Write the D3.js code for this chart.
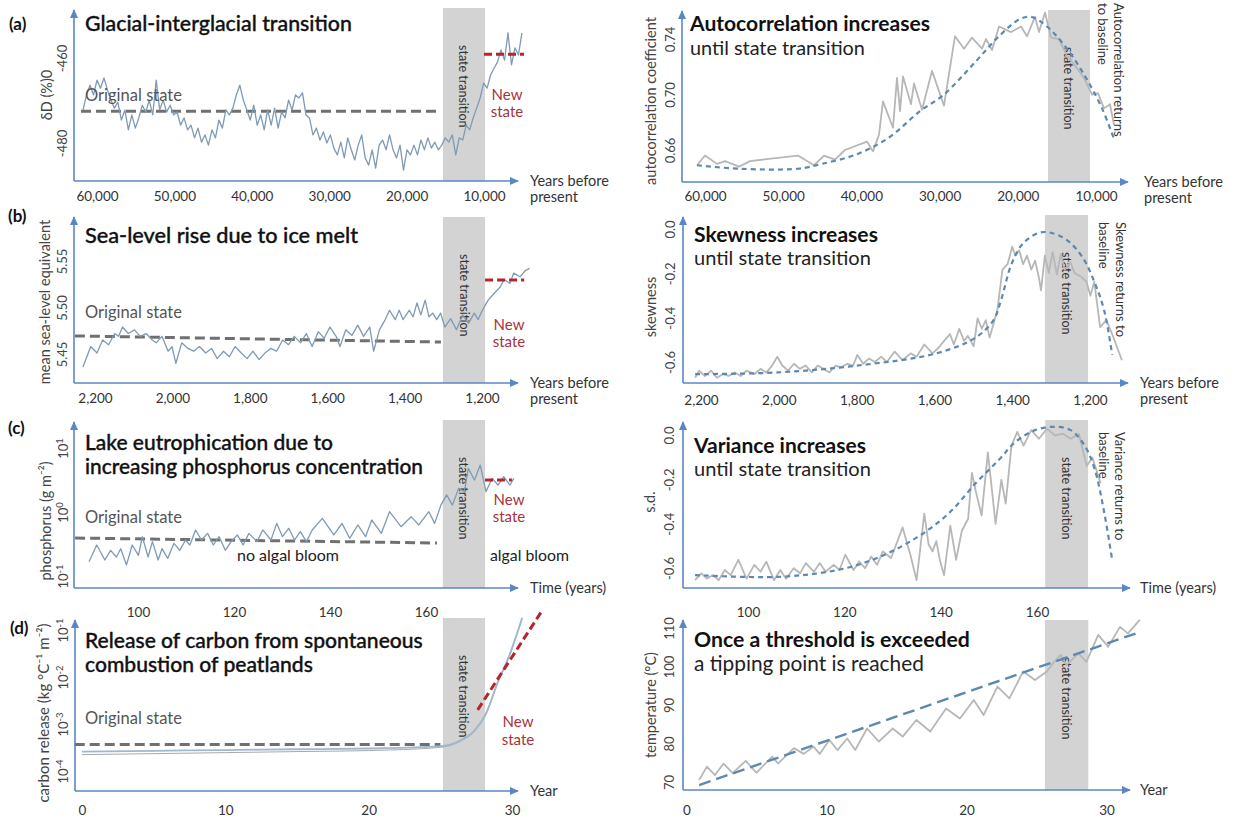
<!DOCTYPE html>
<html><head><meta charset="utf-8">
<script src="https://cdn.jsdelivr.net/npm/d3@7"></script>
<style>
body{margin:0;background:#fff;}
svg{display:block;}
</style></head><body>
<script>
// ================= DATA =================
// (a) left: deltaD record (years before present, uniform sampling)
const dDStartYear = 61800, dDStepYears = 450;
const dDValues = [
-472.2,-468.7,-466.4,-468.7,-465.2,-467.1,-464.7,-467.5,-469.9,-471.8,
-470.4,-474.6,-472.2,-476.9,-473.4,-476.5,-474.1,-471.1,-472.7,-469.9,
-473.4,-465.2,-472.2,-469.9,-472.7,-471.1,-473.4,-472.7,-475.8,-474.1,
-476.9,-475.8,-478.8,-476.5,-479.8,-478.1,-480.5,-476.9,-478.8,-474.6,
-476.5,-472.2,-473.4,-471.8,-468.7,-466.4,-469.9,-472.2,-474.6,-471.1,
-475.8,-473.4,-476.9,-472.2,-475.8,-471.8,-476.5,-472.7,-474.1,-469.9,
-472.2,-468.7,-469.4,-468.2,-473.4,-474.1,-478.1,-476.5,-479.3,-477.4,
-480.0,-478.1,-481.2,-482.8,-479.8,-483.5,-478.8,-481.6,-484.0,-480.5,
-478.1,-483.5,-485.2,-481.6,-485.9,-480.5,-479.3,-481.6,-478.1,-481.6,
-483.5,-480.5,-486.4,-481.6,-482.8,-480.5,-482.8,-479.3,-481.6,-478.8,
-481.2,-479.8,-481.6,-480.5,-478.8,-479.8,-478.1,-482.8,-478.8,-479.3,
-475.8,-476.9,-474.1,-471.8,-469.4,-465.9,-467.1,-464.0,-462.4,-460.9,
-458.1,-460.5,-454.1,-461.6,-457.6,-459.3,-454.1];
const dDOriginalYears = [62070, 15560], dDOriginalValue = -472.5;
const dDNewYears = [10000, 4830], dDNewValue = -459.1;
const glacialBand = [15300, 9870];
const glacialTicks = [60000, 50000, 40000, 30000, 20000, 10000];
const dDTicks = [-460, -480];

// (a) right: autocorrelation
const acYears = [61020,60000,58470,57440,55650,54250,48110,46060,44780,43380,42100,39280,38520,37750,37240,35960,35450,35060,34680,33660,33270,32250,30970,29440,28030,26880,25860,24580,24070,23300,22400,20870,19590,18820,17800,17290,16520,15750,14730,13710,12690,11540,10510,9740,8980,8210,7700];
const acValues = [0.649,0.656,0.650,0.652,0.648,0.652,0.656,0.649,0.656,0.653,0.660,0.666,0.659,0.671,0.695,0.676,0.712,0.688,0.713,0.693,0.708,0.689,0.717,0.692,0.742,0.733,0.741,0.733,0.740,0.732,0.749,0.745,0.749,0.742,0.756,0.745,0.759,0.741,0.740,0.728,0.721,0.712,0.700,0.701,0.690,0.693,0.678];
const acTrendYears = [61020,55650,48110,45040,40560,36470,32510,29440,25350,22400,19850,18310,16270,13710,11280,9230,7700];
const acTrendValues = [0.649,0.6465,0.6465,0.650,0.657,0.669,0.688,0.700,0.724,0.742,0.754,0.756,0.749,0.733,0.712,0.690,0.668];
const acBand = [16140, 10770];
const acTicks = [0.66, 0.70, 0.74];

// (b) left: mean sea-level equivalent
const seaYears = [2231,2211,2195,2180,2165,2149,2139,2129,2114,2098,2083,2068,2052,2042,2027,2011,2001,1991,1976,1960,1945,1930,1914,1899,1884,1868,1853,1838,1822,1807,1792,1776,1761,1746,1731,1715,1700,1685,1669,1654,1639,1623,1608,1593,1577,1567,1552,1536,1521,1506,1490,1480,1465,1450,1439,1424,1414,1404,1388,1378,1368,1358,1347,1337,1327,1317,1307,1296,1281,1266,1250,1235,1220,1210,1199,1184,1169,1153,1143,1128,1118,1102,1087,1077];
const seaValues = [
5.436,5.458,5.451,5.465,5.460,5.472,5.469,5.479,5.472,5.476,
5.469,5.472,5.465,5.462,5.469,5.453,5.458,5.440,5.462,5.456,
5.453,5.458,5.451,5.456,5.445,5.453,5.447,5.458,5.451,5.445,
5.453,5.444,5.451,5.456,5.453,5.465,5.460,5.469,5.462,5.472,
5.458,5.474,5.467,5.479,5.469,5.458,5.476,5.470,5.481,5.469,
5.479,5.453,5.476,5.487,5.497,5.487,5.497,5.487,5.497,5.490,
5.505,5.492,5.508,5.490,5.494,5.487,5.494,5.479,5.488,5.476,
5.492,5.483,5.494,5.487,5.497,5.508,5.515,5.522,5.530,5.526,
5.537,5.533,5.540,5.542];
const seaOriginalYears = [2252, 1306], seaOriginalValues = [5.4694, 5.4629];
const seaNewYears = [1192, 1091], seaNewValue = 5.5296;
const seaBand = [1301, 1192];
const holoceneTicks = [2200, 2000, 1800, 1600, 1400, 1200];
const seaTicks = [5.45, 5.50, 5.55];

// (b) right: skewness
const skewYears = [2215,2205,2190,2174,2159,2144,2129,2113,2098,2083,2063,2047,2032,2017,2004,1991,1976,1961,1946,1931,1915,1900,1885,1870,1854,1839,1824,1809,1798,1783,1768,1753,1737,1722,1702,1682,1661,1646,1626,1605,1590,1575,1560,1550,1536,1524,1514,1499,1489,1478,1468,1458,1448,1438,1425,1412,1400,1392,1382,1372,1362,1351,1341,1331,1326,1316,1306,1296,1285,1275,1265,1250,1240,1224,1209,1199,1189,1174,1158,1143,1133,1118];
const skewValues = [-0.671,-0.639,-0.663,-0.639,-0.671,-0.655,-0.663,-0.647,-0.663,-0.639,-0.655,-0.631,-0.647,-0.616,-0.576,-0.616,-0.639,-0.608,-0.631,-0.616,-0.647,-0.616,-0.631,-0.647,-0.616,-0.624,-0.608,-0.616,-0.568,-0.608,-0.584,-0.600,-0.576,-0.600,-0.553,-0.592,-0.561,-0.576,-0.521,-0.561,-0.537,-0.505,-0.474,-0.521,-0.450,-0.505,-0.482,-0.529,-0.403,-0.450,-0.411,-0.490,-0.427,-0.364,-0.183,-0.159,-0.080,-0.120,-0.096,-0.159,-0.120,-0.183,-0.143,-0.222,-0.277,-0.120,-0.198,-0.104,-0.206,-0.112,-0.183,-0.151,-0.198,-0.214,-0.238,-0.301,-0.238,-0.443,-0.411,-0.474,-0.521,-0.592];
const skewTrendYears = [2215,2002,1798,1595,1494,1448,1428,1402,1372,1331,1301,1260,1219,1189,1164,1143];
const skewTrendValues = [-0.655,-0.647,-0.616,-0.561,-0.490,-0.411,-0.317,-0.159,-0.065,-0.017,-0.017,-0.049,-0.128,-0.238,-0.364,-0.568];
const skewBand = [1316, 1205];
const statTicks = [0, -0.2, -0.4, -0.6];

// (c) left: phosphorus (g m-2)
const phosTime = [89.8,91.4,93.1,94.3,95.5,96.4,97.6,98.8,100.1,100.9,102.1,103.0,104.2,105.0,106.2,107.5,108.7,109.9,110.8,112.0,113.2,114.5,115.7,116.9,118.2,119.4,120.7,121.9,123.1,124.8,126.0,127.7,128.9,130.1,131.4,132.6,133.8,135.1,136.3,138.4,140.8,142.5,144.1,145.8,147.4,148.7,150.7,152.4,154.8,156.9,158.5,160.6,161.8,163.1,164.3,165.5,166.8,168.0,168.8,170.1,171.3,172.5,173.8,175.0,176.2,177.5,178.3];
const phosValues = [0.167,0.305,0.178,0.252,0.198,0.267,0.149,0.305,0.210,0.412,0.198,0.344,0.178,0.267,0.189,0.324,0.252,0.365,0.305,0.524,0.365,0.464,0.305,0.412,0.252,0.344,0.438,0.305,0.464,0.344,0.524,0.365,0.665,0.412,0.556,0.365,0.493,0.344,0.524,0.796,0.438,0.665,0.388,0.627,0.412,0.750,0.464,1.01,0.590,0.845,0.627,1.01,0.665,1.28,1.85,1.28,2.34,2.08,4.81,3.16,5.42,2.08,3.36,2.64,3.56,2.64,3.36];
const phosOriginalTime = [86.9, 162.3], phosOriginalValues = [0.392, 0.328];
const phosNewTime = [172.3, 177.9], phosNewValue = 3.16;
const phosBand = [163.5, 172.3];
const lakeTicks = [100, 120, 140, 160];
const phosTicks = [0.1, 1, 10];

// (c) right: standard deviation
const sdTime = [89.0,90.3,91.5,92.7,93.9,95.2,96.4,98.0,99.7,101.3,102.6,103.8,105.4,106.7,107.9,109.5,110.8,112.0,113.7,114.9,116.1,117.8,119.0,120.2,121.9,123.1,124.3,125.6,126.8,128.0,129.7,130.9,132.1,133.8,135.0,136.6,137.5,138.3,139.1,139.9,140.7,142.0,143.2,144.4,145.7,146.5,147.3,148.5,149.8,151.4,152.6,153.5,154.7,155.9,157.2,158.8,160.4,162.1,163.7,165.4,167.0,168.7,170.3,171.5,173.2];
const sdValues = [-0.655,-0.624,-0.648,-0.632,-0.655,-0.609,-0.632,-0.563,-0.648,-0.586,-0.617,-0.571,-0.655,-0.609,-0.648,-0.601,-0.624,-0.578,-0.617,-0.578,-0.617,-0.586,-0.609,-0.540,-0.609,-0.571,-0.601,-0.548,-0.586,-0.525,-0.555,-0.486,-0.417,-0.548,-0.655,-0.355,-0.494,-0.525,-0.479,-0.571,-0.632,-0.409,-0.563,-0.432,-0.378,-0.171,-0.255,-0.363,-0.078,-0.401,-0.202,-0.309,-0.048,0.014,-0.048,0.022,-0.017,0.029,-0.002,0.006,-0.017,0.006,-0.140,-0.102,-0.217];
const sdTrendTime = [89.0,106.3,118.6,126.8,135.0,141.6,147.3,152.2,155.5,159.6,163.7,167.0,169.9,172.0,174.0,175.6];
const sdTrendValues = [-0.632,-0.640,-0.609,-0.555,-0.463,-0.355,-0.217,-0.109,-0.032,0.022,0.037,0.022,-0.048,-0.156,-0.355,-0.563];
const sdBand = [161.7, 170.6];

// (d) left: carbon release (kg °C-1 m-2)
const carbonYear = [0, 5, 10, 15, 20, 24.9, 26.4, 27.4, 28.2, 29.0, 29.8, 30.4, 30.7];
const carbonValues = [2.59e-4, 2.69e-4, 2.79e-4, 2.9e-4, 3.01e-4, 3.33e-4, 4.49e-4, 7.41e-4, 1.73e-3, 7.78e-3, 0.0286, 0.095, 0.182];
const carbonModelValues = [2.23e-4, 2.34e-4, 2.46e-4, 2.59e-4, 2.72e-4, 3.16e-4, 4.3e-4, 7.1e-4, 1.65e-3, 7.4e-3, 0.027, 0.09, 0.17];
const carbonOriginalYear = [-0.5, 25.0], carbonOriginalValue = 3.67e-4;
const carbonNewYear = [27.6, 32.0], carbonNewValues = [2.0e-3, 0.234];
const carbonBand = [25.18, 28.11];
const peatTicks = [0, 10, 20, 30];
const carbonTicks = [1e-4, 1e-3, 1e-2, 1e-1];

// (d) right: temperature (°C)
const tempYear = [0.9,1.46,2.03,2.65,3.3,4.23,4.99,6.12,6.54,7.67,8.38,9.08,9.51,10.21,10.78,11.48,12.05,12.9,13.74,14.73,15.44,16.42,17.41,18.54,19.53,20.52,21.22,22.21,23.06,24.05,24.89,25.74,26.17,26.73,27.15,28.0,28.56,29.41,30.12,30.96,31.53,32.38];
const tempValues = [70.5,74.0,71.8,74.8,72.3,75.5,72.4,76.6,74.8,78.8,77.3,79.2,77.3,80.9,78.3,81.3,78.3,83.9,80.5,83.9,81.8,86.1,83.1,89.1,86.5,91.3,87.4,94.8,91.7,98.7,96.5,98.7,100.8,103.0,100.4,103.4,101.2,108.2,105.1,110.3,108.6,112.1];
const tempTrendYear = [0.9, 32.1], tempTrendValues = [69.2, 108.6];
const tempBand = [25.6, 28.7];
const tempTicks = [70, 80, 90, 100, 110];

// ================= DRAWING =================
const FONT = "Lato, 'Open Sans', 'Noto Sans', sans-serif";
const AX = "#5b86c6", BAND = "#d3d3d3", LEFTLINE = "#7f9ab5", RIGHTLINE = "#b7b7b7";
const TREND = "#5d89b1", ORIG = "#707070", NEWC = "#b3262c", NEWT = "#a8323a";

const svg = d3.select("body").append("svg").attr("width", 1236).attr("height", 819)
  .attr("font-family", FONT);
svg.append("defs").append("marker").attr("id", "arr").attr("viewBox", "0 0 10 10")
  .attr("refX", 9).attr("refY", 5).attr("markerWidth", 9).attr("markerHeight", 9)
  .attr("markerUnits", "userSpaceOnUse").attr("orient", "auto")
  .append("path").attr("d", "M0,0.5L10,5L0,9.5Z").attr("fill", AX);

function fit(t, w) {
  const L = t.node().getComputedTextLength();
  if (L > 0) t.attr("font-size", (parseFloat(t.attr("font-size")) * w / L).toFixed(2));
  return t;
}
function txt(x, y, s, o = {}) {
  const t = svg.append("text").attr("x", x).attr("y", y).text(s)
    .attr("font-size", o.size || 14).attr("fill", o.fill || "#222");
  if (o.weight) t.attr("font-weight", o.weight);
  if (o.anchor) t.attr("text-anchor", o.anchor);
  if (o.heavy) t.attr("stroke", o.fill || "#222").attr("stroke-width", 0.35);
  if (o.w) fit(t, o.w);
  return t;
}
function vtxt(x, y, s, o = {}) { // reads top to bottom
  return svg.append("text").attr("transform", `translate(${x},${y}) rotate(90)`)
    .attr("dominant-baseline", "central").attr("font-size", o.size || 13)
    .attr("fill", o.fill || "#333").text(s);
}
function series(xs, ys, X, Y, st) {
  const pts = X.map((x, i) => [x, Y[i]]);
  svg.append("path").datum(pts)
    .attr("d", d3.line().x(d => xs(d[0])).y(d => ys(d[1])).curve(st.curve || d3.curveLinear))
    .attr("fill", "none").attr("stroke", st.stroke).attr("stroke-width", st.width)
    .attr("stroke-dasharray", st.dash || null).attr("stroke-linejoin", "round");
}
function supFmt(t, d) {
  t.text("10");
  t.append("tspan").attr("dy", "-0.45em").attr("font-size", "0.72em").text(String(Math.round(Math.log10(d))));
}
function panel(o) {
  const xa = o.xs(o.band[0]), xb = o.xs(o.band[1]);
  svg.append("rect").attr("x", xa).attr("y", o.bandTop).attr("width", xb - xa)
    .attr("height", o.base - o.bandTop).attr("fill", BAND);
  vtxt((xa + xb) / 2, o.bandTop + 37, "state transition", { size: 12.5, fill: "#333" });
  svg.append("line").attr("x1", o.ox).attr("y1", o.base).attr("x2", o.tip).attr("y2", o.base)
    .attr("stroke", AX).attr("stroke-width", 1.6).attr("marker-end", "url(#arr)");
  svg.append("line").attr("x1", o.ox).attr("y1", o.base).attr("x2", o.ox).attr("y2", o.top)
    .attr("stroke", AX).attr("stroke-width", 1.6).attr("marker-end", "url(#arr)");
  const gx = svg.append("g").attr("transform", `translate(0,${o.xLabY})`)
    .call(d3.axisBottom(o.xs).tickValues(o.xTicks).tickFormat(o.xFmt).tickSize(0));
  gx.select(".domain").remove();
  gx.attr("font-family", FONT).attr("font-size", 13.5);
  gx.selectAll("text").attr("y", 0).attr("dy", "0.35em").attr("fill", "#333");
  const gy = svg.append("g").attr("transform", `translate(${o.yLabX},0)`)
    .call(d3.axisLeft(o.ys).tickValues(o.yTicks).tickFormat(o.yFmt || (d => String(d))).tickSize(0));
  gy.select(".domain").remove();
  gy.attr("font-family", FONT).attr("font-size", 13);
  gy.selectAll("text").attr("x", 0).attr("dy", null).attr("text-anchor", "middle")
    .attr("dominant-baseline", "central").attr("transform", "rotate(-90)").attr("fill", "#444")
    .each(function (d) { if (o.log) supFmt(d3.select(this), d); });
  svg.append("text").attr("transform", `translate(${o.yTitle[1]},${o.yTitle[2]}) rotate(-90)`)
    .attr("text-anchor", "middle").attr("dominant-baseline", "central")
    .attr("font-size", o.yTitle[3] || 14.5).attr("fill", "#444").text(o.yTitle[0]);
  o.xTitle.forEach((s, i) => txt(o.xTitleX, o.base + 5 + i * 16, s, { size: 14.5, fill: "#333" }));
}
const f2 = d3.format(".2f"), f1 = d => d.toFixed(1), fc = d3.format(",");
const TITLE = { size: 19, weight: 500, fill: "#111", heavy: true };

// ---------- (a) left ----------
{
  const xs = d3.scaleLinear().domain([60000, 10000]).range([97, 484]);
  const ys = d3.scaleLinear().domain([-460, -480]).range([58, 143]);
  panel({ xs, ys, ox: 74, top: 10, base: 181, tip: 518, bandTop: 8, band: glacialBand,
    xTicks: glacialTicks, xFmt: fc, xLabY: 196, yTicks: dDTicks, yLabX: 62,
    yTitle: ["δD (%)0", 46, 95], xTitle: ["Years before", "present"], xTitleX: 530 });
  series(xs, ys, dDOriginalYears, [dDOriginalValue, dDOriginalValue], { stroke: ORIG, width: 3, dash: "10,5" });
  series(xs, ys, dDValues.map((v, i) => dDStartYear - i * dDStepYears), dDValues, { stroke: LEFTLINE, width: 1.3 });
  series(xs, ys, dDNewYears, [dDNewValue, dDNewValue], { stroke: NEWC, width: 3, dash: "8,4" });
  txt(9, 30, "(a)", { size: 17, weight: 700, fill: "#111" });
  txt(85, 31, "Glacial-interglacial transition", Object.assign({ w: 267 }, TITLE));
  txt(85, 101, "Original state", { size: 15, fill: "#555", w: 97 });
  txt(507, 100, "New", { size: 15, fill: NEWT, anchor: "middle" });
  txt(507, 117, "state", { size: 15, fill: NEWT, anchor: "middle" });
}
// ---------- (a) right ----------
{
  const xs = d3.scaleLinear().domain([60000, 10000]).range([705, 1096]);
  const ys = d3.scaleLinear().domain([0.66, 0.74]).range([150, 39]);
  panel({ xs, ys, ox: 682, top: 11, base: 182, tip: 1128, bandTop: 10, band: acBand,
    xTicks: glacialTicks, xFmt: fc, xLabY: 196, yTicks: acTicks, yFmt: f2, yLabX: 670,
    yTitle: ["autocorrelation coefficient", 650, 101], xTitle: ["Years before", "present"], xTitleX: 1144 });
  series(xs, ys, acYears, acValues, { stroke: RIGHTLINE, width: 1.8 });
  series(xs, ys, acTrendYears, acTrendValues, { stroke: TREND, width: 2.2, dash: "5,4", curve: d3.curveCatmullRom });
  txt(690, 31, "Autocorrelation increases", { size: 18, weight: 700, fill: "#111", w: 240 });
  txt(690, 55, "until state transition", { size: 18, fill: "#222", w: 175 });
  vtxt(1119, 3, "Autocorrelation returns");
  vtxt(1103, 3, "to baseline");
}
// ---------- (b) left ----------
{
  const xs = d3.scaleLinear().domain([2200, 1200]).range([95, 482]);
  const ys = d3.scaleLinear().domain([5.45, 5.55]).range([354, 261]);
  panel({ xs, ys, ox: 74, top: 217, base: 383, tip: 518, bandTop: 217, band: seaBand,
    xTicks: holoceneTicks, xFmt: fc, xLabY: 398, yTicks: seaTicks, yFmt: f2, yLabX: 62,
    yTitle: ["mean sea-level equivalent", 44, 302], xTitle: ["Years before", "present"], xTitleX: 530 });
  series(xs, ys, seaOriginalYears, seaOriginalValues, { stroke: ORIG, width: 3, dash: "10,5" });
  series(xs, ys, seaYears, seaValues, { stroke: LEFTLINE, width: 1.3 });
  series(xs, ys, seaNewYears, [seaNewValue, seaNewValue], { stroke: NEWC, width: 3, dash: "8,4" });
  txt(8, 222, "(b)", { size: 17, weight: 700, fill: "#111" });
  txt(85, 243, "Sea-level rise due to ice melt", Object.assign({ w: 273 }, TITLE));
  txt(85, 318, "Original state", { size: 15, fill: "#555", w: 97 });
  txt(509, 330, "New", { size: 15, fill: NEWT, anchor: "middle" });
  txt(509, 347, "state", { size: 15, fill: NEWT, anchor: "middle" });
}
// ---------- (b) right ----------
{
  const xs = d3.scaleLinear().domain([2200, 1200]).range([701, 1090]);
  const ys = d3.scaleLinear().domain([0, -0.6]).range([229, 362]);
  panel({ xs, ys, ox: 683, top: 217, base: 383, tip: 1128, bandTop: 215, band: skewBand,
    xTicks: holoceneTicks, xFmt: fc, xLabY: 400, yTicks: statTicks, yFmt: f1, yLabX: 670,
    yTitle: ["skewness", 650, 307], xTitle: ["Years before", "present"], xTitleX: 1140 });
  series(xs, ys, skewYears, skewValues, { stroke: RIGHTLINE, width: 1.8 });
  series(xs, ys, skewTrendYears, skewTrendValues, { stroke: TREND, width: 2.2, dash: "5,4", curve: d3.curveCatmullRom });
  txt(694, 242, "Skewness increases", { size: 18, weight: 700, fill: "#111", w: 184 });
  txt(694, 265, "until state transition", { size: 18, fill: "#222", w: 177 });
  vtxt(1121, 222, "Skewness returns to");
  vtxt(1104, 222, "baseline");
}
// ---------- (c) left ----------
{
  const xs = d3.scaleLinear().domain([100, 160]).range([138, 426]);
  const ys = d3.scaleLog().domain([0.1, 10]).range([576, 448]);
  panel({ xs, ys, ox: 74, top: 422, base: 588, tip: 518, bandTop: 420, band: phosBand,
    xTicks: lakeTicks, xFmt: d => String(d), xLabY: 612, yTicks: phosTicks, yLabX: 63, log: true,
    yTitle: ["phosphorus (g m⁻²)", 45, 521], xTitle: ["Time (years)"], xTitleX: 530 });
  series(xs, ys, phosOriginalTime, phosOriginalValues, { stroke: ORIG, width: 3, dash: "10,5" });
  series(xs, ys, phosTime, phosValues, { stroke: LEFTLINE, width: 1.3 });
  series(xs, ys, phosNewTime, [phosNewValue, phosNewValue], { stroke: NEWC, width: 3, dash: "8,4" });
  txt(8, 434, "(c)", { size: 17, weight: 700, fill: "#111" });
  txt(85, 450, "Lake eutrophication due to", Object.assign({ w: 248 }, TITLE));
  txt(85, 474, "increasing phosphorus concentration", Object.assign({ w: 338 }, TITLE));
  txt(85, 523, "Original state", { size: 15, fill: "#555", w: 97 });
  txt(237, 561, "no algal bloom", { size: 14.5, fill: "#222", w: 102 });
  txt(490, 561, "algal bloom", { size: 14.5, fill: "#222", w: 79 });
  txt(509, 505, "New", { size: 15, fill: NEWT, anchor: "middle" });
  txt(509, 522, "state", { size: 15, fill: NEWT, anchor: "middle" });
}
// ---------- (c) right ----------
{
  const xs = d3.scaleLinear().domain([100, 160]).range([748, 1037]);
  const ys = d3.scaleLinear().domain([0, -0.6]).range([435, 568]);
  panel({ xs, ys, ox: 683, top: 422, base: 588, tip: 1130, bandTop: 420, band: sdBand,
    xTicks: lakeTicks, xFmt: d => String(d), xLabY: 612, yTicks: statTicks, yFmt: f1, yLabX: 669,
    yTitle: ["s.d.", 649, 502], xTitle: ["Time (years)"], xTitleX: 1140 });
  series(xs, ys, sdTime, sdValues, { stroke: RIGHTLINE, width: 1.8 });
  series(xs, ys, sdTrendTime, sdTrendValues, { stroke: TREND, width: 2.2, dash: "5,4", curve: d3.curveCatmullRom });
  txt(694, 453, "Variance increases", { size: 18, weight: 700, fill: "#111", w: 172 });
  txt(694, 476, "until state transition", { size: 18, fill: "#222", w: 177 });
  vtxt(1120, 432, "Variance returns to");
  vtxt(1104, 432, "baseline");
}
// ---------- (d) left ----------
{
  const xs = d3.scaleLinear().domain([0, 30]).range([81.9, 512.1]);
  const ys = d3.scaleLog().domain([1e-4, 1e-1]).range([771, 630]);
  panel({ xs, ys, ox: 75, top: 620, base: 791, tip: 518, bandTop: 618, band: carbonBand,
    xTicks: peatTicks, xFmt: d => String(d), xLabY: 810, yTicks: carbonTicks, yLabX: 63, log: true,
    yTitle: ["carbon release (kg °C⁻¹ m⁻²)", 43, 713, 15], xTitle: ["Year"], xTitleX: 530 });
  series(xs, ys, carbonOriginalYear, [carbonOriginalValue, carbonOriginalValue], { stroke: ORIG, width: 3, dash: "10,5" });
  series(xs, ys, carbonYear, carbonModelValues, { stroke: "#a9a9a9", width: 1, curve: d3.curveMonotoneX });
  series(xs, ys, carbonYear, carbonValues, { stroke: "#9fb8cf", width: 1.8, curve: d3.curveMonotoneX });
  series(xs, ys, carbonNewYear, carbonNewValues, { stroke: NEWC, width: 3, dash: "8,4" });
  txt(10, 634, "(d)", { size: 17, weight: 700, fill: "#111" });
  txt(85, 648, "Release of carbon from spontaneous", Object.assign({ w: 338 }, TITLE));
  txt(85, 672, "combustion of peatlands", Object.assign({ w: 228 }, TITLE));
  txt(85, 724, "Original state", { size: 15, fill: "#555", w: 97 });
  txt(518, 727, "New", { size: 15, fill: NEWT, anchor: "middle" });
  txt(518, 745, "state", { size: 15, fill: NEWT, anchor: "middle" });
}
// ---------- (d) right ----------
{
  const xs = d3.scaleLinear().domain([0, 30]).range([686.5, 1106.5]);
  const ys = d3.scaleLinear().domain([70, 110]).range([782, 628]);
  panel({ xs, ys, ox: 683, top: 620, base: 790, tip: 1130, bandTop: 620, band: tempBand,
    xTicks: peatTicks, xFmt: d => String(d), xLabY: 810, yTicks: tempTicks, yLabX: 669,
    yTitle: ["temperature  (°C)", 650, 705], xTitle: ["Year"], xTitleX: 1140 });
  series(xs, ys, tempYear, tempValues, { stroke: RIGHTLINE, width: 1.8 });
  series(xs, ys, tempTrendYear, tempTrendValues, { stroke: TREND, width: 2.4, dash: "12,6" });
  txt(694, 647, "Once a threshold is exceeded", { size: 18, weight: 700, fill: "#111", w: 276 });
  txt(694, 671, "a tipping point is reached", { size: 18, fill: "#222", w: 230 });
}
</script>
</body></html>
